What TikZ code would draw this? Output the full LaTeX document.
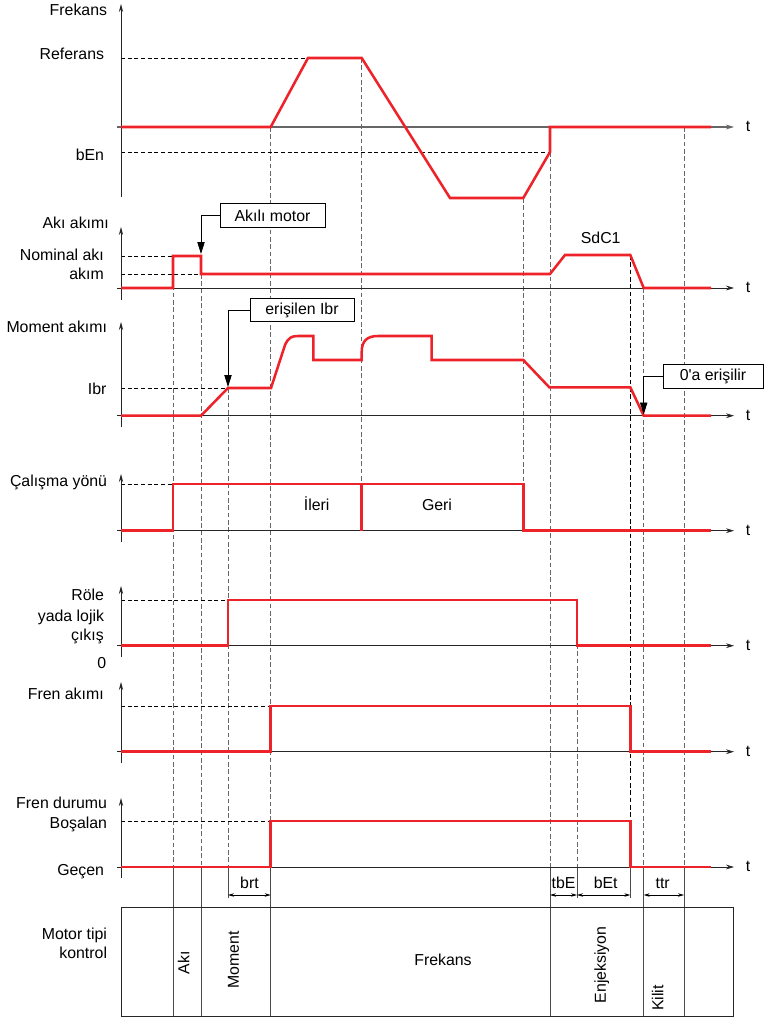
\documentclass[tikz,border=0pt]{standalone}
\usepackage{fontspec}
\setmainfont{Liberation Sans}
\usetikzlibrary{arrows.meta}
\definecolor{sigred}{HTML}{EE2229}
\begin{document}
\begin{tikzpicture}[x=0.75pt,y=-0.75pt,
  sig/.style={draw=sigred,line width=1.9pt},
  haxis/.style={draw=black!85,line width=0.6pt,-{Stealth[length=6pt,width=3.6pt]}},
  vaxis/.style={draw=black!85,line width=0.6pt,-{Stealth[length=6pt,width=3.2pt]}},
  refl/.style={draw=black,line width=0.5pt,dash pattern=on 3pt off 2pt},
  vdash/.style={draw=black!60,line width=0.75pt,dash pattern=on 3.5pt off 2pt},
  vdashk/.style={draw=black,line width=0.6pt,dash pattern=on 3.5pt off 2pt},
  vsolid/.style={draw=black!70,line width=0.7pt},
  lbl/.style={font=\fontsize{11.9}{14}\selectfont,inner sep=0pt,anchor=base east},
  txt/.style={font=\fontsize{11.9}{14}\selectfont,inner sep=0pt,anchor=base},
  ctxt/.style={font=\fontsize{11.9}{14}\selectfont,inner sep=0pt},
  callbox/.style={draw=black,line width=0.6pt,fill=white,font=\fontsize{11.9}{14}\selectfont,inner sep=0pt,minimum height=17.5pt},
  callarrow/.style={draw=black,line width=0.6pt,-{Triangle[length=9pt,width=5.5pt]}},
  dim/.style={draw=black,line width=0.5pt,{Stealth[length=4.5pt,width=2.6pt]}-{Stealth[length=4.5pt,width=2.6pt]}}
]
\fill[white] (0,0) rectangle (765,1017);
\useasboundingbox (0,0) rectangle (765,1017);

% ---------- vertical time lines ----------
\draw[vdash] (173,256) -- (173,867);   \draw[vsolid] (173,867) -- (173,1016);
\draw[vdash] (201,274) -- (201,867);   \draw[vsolid] (201,867) -- (201,1016);
\draw[vdash] (228,388) -- (228,867);   \draw[vsolid] (228,867) -- (228,898);
\draw[vdash] (270.7,127) -- (270.7,867); \draw[vsolid] (270.7,867) -- (270.7,1016);
\draw[vdash] (361.7,58) -- (361.7,484);
\draw[vdash] (523.3,198) -- (523.3,484);
\draw[vdash] (550,152) -- (550,867);   \draw[vsolid] (550,867) -- (550,1016);
\draw[vdash] (577,600) -- (577,867);   \draw[vsolid] (577,867) -- (577,898);
\draw[vdashk] (630.3,255) -- (630.3,867); \draw[vsolid] (630.3,867) -- (630.3,898);
\draw[vdash] (643.7,288) -- (643.7,867); \draw[vsolid] (643.7,867) -- (643.7,1016);
\draw[vdash] (684,127) -- (684,867);   \draw[vsolid] (684,867) -- (684,1016);

% ---------- horizontal reference lines ----------
\draw[refl] (121,58) -- (308,58);
\draw[refl] (121,152) -- (550,152);
\draw[refl] (121,256) -- (173,256);
\draw[refl] (121,274) -- (201,274);
\draw[refl] (121,388) -- (228,388);
\draw[refl] (121,484) -- (173,484);
\draw[refl] (121,600) -- (228,600);
\draw[refl] (121,706) -- (270.7,706);
\draw[refl] (121,821) -- (270.7,821);

% ---------- axes ----------
\draw[vaxis] (121,197) -- (121,4);
\draw[haxis,draw=black!60,line width=0.9pt] (117,127) -- (734,127);
\draw[vaxis] (121,300) -- (121,227);
\draw[haxis] (117,288) -- (734,288);
\draw[vaxis] (121,427) -- (121,322);
\draw[haxis] (117,415.7) -- (734,415.7);
\draw[vaxis] (121,542) -- (121,474);
\draw[haxis] (117,530.7) -- (734,530.7);
\draw[vaxis] (121,657) -- (121,586);
\draw[haxis] (117,645.7) -- (734,645.7);
\draw[vaxis] (121,763) -- (121,682);
\draw[haxis] (117,751.7) -- (734,751.7);
\draw[vaxis] (121,878) -- (121,798);
\draw[haxis] (117,867) -- (734,867);

\foreach \n/\yy in {t1/131.5,t2/292.5,t3/420,t4/535,t5/650,t6/756,t7/871}
  \node[txt] (\n) at (748,\yy) {t};

% ---------- signals ----------
\draw[sig] (121,127) -- (270.7,127) -- (308,58) -- (361.7,58) -- (450,198) -- (523.3,198) -- (550,152) -- (550,127) -- (711,127);
\draw[sig] (121,288) -- (173,288) -- (173,256) -- (201,256) -- (201,274) -- (550,274) -- (565,255) -- (630.3,255) -- (643.7,288) -- (711,288);
\draw[sig] (121,415.7) -- (201,415.7) -- (228,388) -- (271,388) -- (285,345) .. controls (288.5,337.5) and (291.5,336) .. (298,336) -- (313.3,336) -- (313.3,360) -- (361.7,360) -- (361.7,352) .. controls (361.7,341) and (367,336) .. (378,336) -- (431.7,336) -- (431.7,360) -- (523.3,360) -- (549.3,387.3) -- (630.3,387.3) -- (643.7,415.7) -- (711,415.7);
\draw[sig] (121,530.7) -- (173,530.7) -- (173,484) -- (523.3,484) -- (523.3,530.7) -- (711,530.7);
\draw[sig] (361.7,484) -- (361.7,530.7);
\draw[sig] (121,645.7) -- (228,645.7) -- (228,600) -- (577,600) -- (577,645.7) -- (711,645.7);
\draw[sig] (121,751.7) -- (270.7,751.7) -- (270.7,706) -- (630.3,706) -- (630.3,751.7) -- (711,751.7);
\draw[sig] (121,867) -- (270.7,867) -- (270.7,821) -- (630.3,821) -- (630.3,867) -- (711,867);

% ---------- left labels ----------
\node[lbl] (lFrekans) at (107.3,16) {Frekans};
\node[lbl] (lReferans) at (104.3,59) {Referans};
\node[lbl] (lbEn) at (104.3,160) {bEn};
\node[lbl] (lAki) at (109,228.3) {Akı akımı};
\node[lbl] (lNominal) at (104,260) {Nominal akı};
\node[lbl] (lAkim) at (104,279.3) {akım};
\node[lbl] (lMoment) at (107.3,332.7) {Moment akımı};
\node[lbl] (lIbr) at (106.7,394) {Ibr};
\node[lbl] (lCalisma) at (107.3,486.7) {Çalışma yönü};
\node[lbl] (lRole) at (104.3,600) {Röle};
\node[lbl] (lYada) at (104.3,621) {yada lojik};
\node[lbl] (lCikis) at (104,640) {çıkış};
\node[lbl] (lZero) at (106.5,668) {0};
\node[lbl] (lFrenAkim) at (104,699.5) {Fren akımı};
\node[lbl] (lFrenDurum) at (107.3,808.3) {Fren durumu};
\node[lbl] (lBosalan) at (107.3,828.3) {Boşalan};
\node[lbl] (lGecen) at (104.3,875) {Geçen};
\node[lbl] (lMotor) at (107.3,939.3) {Motor tipi};
\node[lbl] (lKontrol) at (107.3,958.3) {kontrol};

% ---------- in-plot texts ----------
\node[txt] (sdc) at (600.7,243.3) {SdC1};
\node[txt] (ileri) at (316.7,510) {İleri};
\node[txt] (geri) at (437,510) {Geri};

% ---------- time intervals ----------
\coordinate (brtL) at (228,895); \coordinate (brtR) at (270.7,895);
\coordinate (tbeL) at (550,895); \coordinate (tbeR) at (577,895);
\coordinate (betL) at (577,895); \coordinate (betR) at (630.3,895);
\coordinate (ttrL) at (643.7,895); \coordinate (ttrR) at (684,895);
\draw[dim] (brtL) -- (brtR);
\draw[dim] (tbeL) -- (tbeR);
\draw[dim] (betL) -- (betR);
\draw[dim] (ttrL) -- (ttrR);
\node[txt] (brt) at (249.5,888.3) {brt};
\node[txt] (tbE) at (563.5,888.3) {tbE};
\node[txt] (bEt) at (605.7,888.3) {bEt};
\node[txt] (ttr) at (662.7,888.3) {ttr};

% ---------- motor control table ----------
\draw[line width=0.6pt,draw=black!85] (121,907.7) rectangle (733,1016);
\node[ctxt,rotate=90] (tAki) at (183.5,963) {Akı};
\node[ctxt,rotate=90] (tMoment) at (233.5,960) {Moment};
\node[ctxt] (tFrekans) at (443,960) {Frekans};
\node[ctxt,rotate=90] (tEnj) at (601.7,965) {Enjeksiyon};
\node[ctxt,rotate=90] (tKilit) at (657.7,998) {Kilit};

% ---------- callouts ----------
\node[callbox,minimum width=78.75pt] (akili) at (272.5,215.5) {Akılı motor};
\coordinate (akiliTip) at (201,254);
\draw[callarrow] (akili.west) -| (akiliTip);

\node[callbox,minimum width=78pt] (erisilen) at (302,310) {erişilen Ibr};
\coordinate (erisTip) at (228,387);
\draw[callarrow] (erisilen.west) -| (erisTip);

\node[callbox,minimum width=75pt] (sifir) at (713,376.5) {0\textquotesingle a erişilir};
\coordinate (sifirTip) at (643.7,414.5);
\draw[callarrow] (sifir.west) -| (sifirTip);
\end{tikzpicture}
\end{document}
